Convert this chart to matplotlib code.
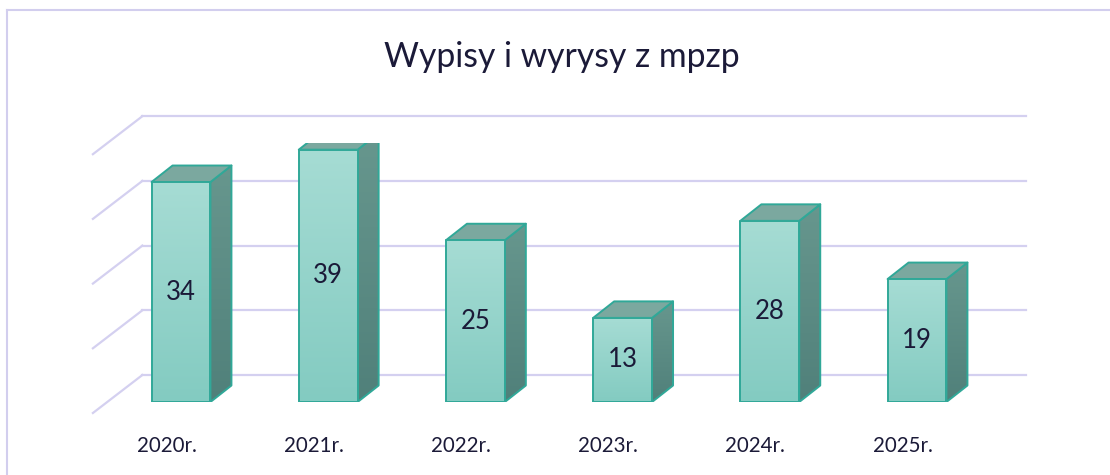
import numpy as np
import matplotlib
matplotlib.use("Agg")
import matplotlib.pyplot as plt
from matplotlib.patches import Polygon
from matplotlib.colors import LinearSegmentedColormap
from matplotlib.lines import Line2D

# ---- data ----
categories = ["2020r.", "2021r.", "2022r.", "2023r.", "2024r.", "2025r."]
values = [34, 39, 25, 13, 28, 19]
grid_values = [0, 10, 20, 30, 40]
title = "Wypisy i wyrysy z mpzp"

# ---- style ----
FONT = "Lato"
TXT = "#1b1a38"
GRID = "#d4d0f0"
EDGE = "#30a898"
TOPC = "#7ba89f"
front_cmap = LinearSegmentedColormap.from_list("front", ["#83cbc1", "#a6dcd4"])
side_cmap = LinearSegmentedColormap.from_list("side", ["#50807a", "#67978e"])

W, H, DPI = 1110, 475, 100
fig = plt.figure(figsize=(W / DPI, H / DPI), dpi=DPI)

# axes placement (pixels -> figure fraction)
px_per_cat = 147.2
px_per_val = 6.47
left_px = 181 - 0.5 * px_per_cat
base_px = 402
ax = fig.add_axes([left_px / W, (H - base_px) / H,
                   6 * px_per_cat / W, 40 * px_per_val / H])
ax.set_xlim(-0.5, 5.5)
ax.set_ylim(0, 40)
ax.axis("off")

# depth vectors (data units)
bar_dx, bar_dy = 21 / px_per_cat, 16.5 / px_per_val
wall_dx, wall_dy = 35 / px_per_cat, 27 / px_per_val
floor_dx, floor_dy = -14.5 / px_per_cat, -11 / px_per_val
bw = 0.4
n = len(categories)

# gridlines: back wall + left diagonals
for g in grid_values:
    ax.plot([-0.5 + wall_dx, n - 0.5 + wall_dx], [g + wall_dy, g + wall_dy],
            color=GRID, lw=1.6, clip_on=False, zorder=1)
    ax.plot([-0.5 + floor_dx, -0.5 + wall_dx], [g + floor_dy, g + wall_dy],
            color=GRID, lw=1.6, clip_on=False, zorder=1)

grad = np.linspace(0, 1, 256).reshape(-1, 1)
for i, v in enumerate(values):
    x0, x1 = i - bw / 2, i + bw / 2
    # side face
    side = Polygon([(x1, 0), (x1 + bar_dx, bar_dy), (x1 + bar_dx, v + bar_dy), (x1, v)],
                   closed=True, facecolor="none", edgecolor=EDGE, lw=1.4, zorder=4,
                   joinstyle="round")
    ax.add_patch(side)
    im = ax.imshow(grad, extent=(x1, x1 + bar_dx, 0, v + bar_dy), origin="lower",
                   aspect="auto", cmap=side_cmap, zorder=3, interpolation="bilinear")
    im.set_clip_path(side)
    # top face
    top = Polygon([(x0, v), (x1, v), (x1 + bar_dx, v + bar_dy), (x0 + bar_dx, v + bar_dy)],
                  closed=True, facecolor=TOPC, edgecolor=EDGE, lw=1.4, zorder=4,
                  joinstyle="round")
    ax.add_patch(top)
    # front face
    ax.imshow(grad, extent=(x0, x1, 0, v), origin="lower", aspect="auto",
              cmap=front_cmap, zorder=5, interpolation="bilinear")
    front = Polygon([(x0, 0), (x1, 0), (x1, v), (x0, v)], closed=True,
                    facecolor="none", edgecolor=EDGE, lw=1.4, zorder=6, joinstyle="round")
    ax.add_patch(front)
    # value label
    ax.text(i, v / 2, str(v), ha="center", va="center", fontsize=18.5,
            family=FONT, color=TXT, zorder=7)
    # category label
    ax.annotate(categories[i], xy=(i + floor_dx, floor_dy), xytext=(0, -33),
                textcoords="offset pixels", ha="center", va="center",
                fontsize=14.8, family=FONT, color=TXT, annotation_clip=False)

ax.set_xlim(-0.5, 5.5)
ax.set_ylim(0, 40)

# title
fig.text(562 / W, 1 - 57 / H, title, ha="center", va="center", fontsize=24.3,
         family=FONT, color=TXT)

# chart frame (partially visible)
fig.add_artist(Line2D([7 / W, 7 / W], [0, 1 - 10 / H], color="#d2ceee", lw=1.5))
fig.add_artist(Line2D([7 / W, 1], [1 - 10 / H, 1 - 10 / H], color="#d2ceee", lw=1.5))

fig.savefig("out.png", dpi=DPI, facecolor="white")
